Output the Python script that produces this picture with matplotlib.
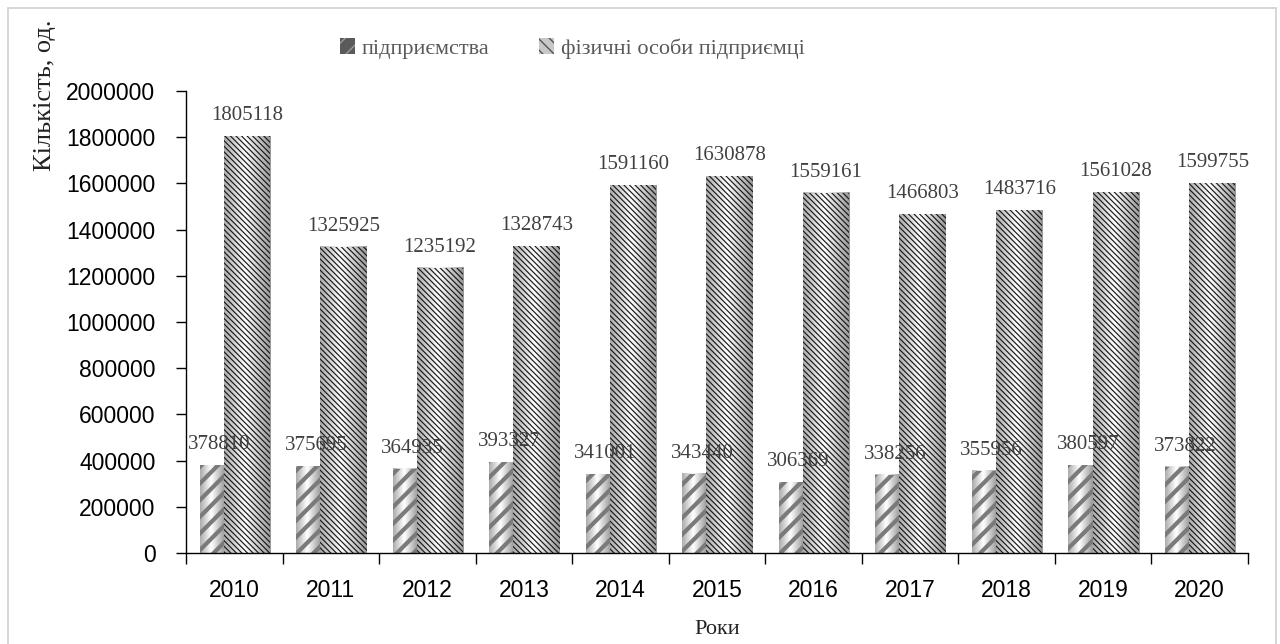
import numpy as np
import matplotlib.pyplot as plt
from matplotlib.patches import Rectangle, Patch

# data
years = ['2010', '2011', '2012', '2013', '2014', '2015',
         '2016', '2017', '2018', '2019', '2020']
enterprises = [378810, 375695, 364935, 393327, 341001, 343440,
               306369, 338256, 355956, 380597, 373822]
entrepreneurs = [1805118, 1325925, 1235192, 1328743, 1591160, 1630878,
                 1559161, 1466803, 1483716, 1561028, 1599755]
yticks = [0, 200000, 400000, 600000, 800000, 1000000, 1200000,
          1400000, 1600000, 1800000, 2000000]

serif = 'Liberation Serif'
sans = 'Liberation Sans'
label_col = '#404040'

fig = plt.figure(figsize=(12.8, 6.44), dpi=100)
ax = fig.add_axes([0.1453, 0.1413, 0.8297, 0.7174])

# light grey frame round the whole chart
fig.patches.append(Rectangle((0.006, -0.01), 0.991, 0.998, transform=fig.transFigure,
                             fill=False, edgecolor='#d0d0d0', linewidth=1.2))

x = np.arange(len(years))
w1, w2 = 0.25, 0.48
off1 = -0.36 + w1 / 2
off2 = -0.11 + w2 / 2

# horizontal shading, grey at the edges and white near the middle
g = np.linspace(0, 1, 64)
shade = 1 - 0.4 * np.abs(g - 0.45) / 0.55
grad = np.tile(shade, (2, 1))


def shaded_bars(xs, vals, width, hatch, color, hlw):
    for xc, v in zip(xs, vals):
        ax.imshow(grad, cmap='gray', vmin=0, vmax=1, aspect='auto',
                  extent=(xc - width / 2, xc + width / 2, 0, v), zorder=1,
                  interpolation='bilinear')
    with plt.rc_context({'hatch.linewidth': hlw}):
        bars = ax.bar(xs, vals, width, facecolor='none', edgecolor=color,
                      hatch=hatch, linewidth=0, zorder=2)
    for b in bars:
        if hasattr(b, 'set_hatch_linewidth'):
            b.set_hatch_linewidth(hlw)
    return bars


shaded_bars(x + off1, enterprises, w1, '//', '#7a7a7a', 3.0)
shaded_bars(x + off2, entrepreneurs, w2, '\\\\\\\\\\\\', '#1a1a1a', 0.85)

for xi, v in zip(x + off1, enterprises):
    ax.annotate(f'{v}', (xi + 0.08, v), xytext=(0, 8), textcoords='offset points',
                ha='center', va='bottom', fontsize=15, family=serif,
                color=label_col, zorder=3)
for xi, v in zip(x + off2, entrepreneurs):
    ax.annotate(f'{v}', (xi, v), xytext=(0, 8), textcoords='offset points',
                ha='center', va='bottom', fontsize=15, family=serif,
                color=label_col, zorder=3)

ax.set_xlim(-0.5, len(years) - 0.5)
ax.set_ylim(0, 2000000)
ax.set_yticks(yticks)
ax.set_yticklabels([str(t) for t in yticks], family=sans, fontsize=16.5)
ax.set_xticks(np.arange(-0.5, len(years)), labels=[])
ax.set_xticks(x, labels=years, minor=True)
ax.tick_params(axis='x', which='major', length=8, width=1, direction='out')
ax.tick_params(axis='x', which='minor', length=0, pad=19, labelsize=16.5)
ax.tick_params(axis='y', length=7, width=1, direction='out', pad=15)
for lab in ax.get_xticklabels(minor=True):
    lab.set_family(sans)

for s in ['top', 'right']:
    ax.spines[s].set_visible(False)
for s in ['left', 'bottom']:
    ax.spines[s].set_linewidth(1)
    ax.spines[s].set_color('black')

fig.text(0.035, 0.97, 'Кількість, од.', rotation=90, ha='center', va='top',
         fontsize=19, family=serif, color='#222222')
fig.text(0.56, 0.022, 'Роки', ha='center', va='center',
         fontsize=16, family=serif, color='#222222')

handles = [Patch(facecolor='#5a5a5a', edgecolor='#9a9a9a', hatch='//', linewidth=0),
           Patch(facecolor='#c8c8c8', edgecolor='#555555', hatch='\\\\\\', linewidth=0)]
leg = fig.legend(handles, ['підприємства', 'фізичні особи підприємці'],
                 loc='center', bbox_to_anchor=(0.447, 0.925), ncol=2, frameon=False,
                 handlelength=0.7, handleheight=0.7, handletextpad=0.3,
                 columnspacing=2.2, prop={'family': serif, 'size': 16})
for t in leg.get_texts():
    t.set_color('#595959')

fig.savefig('out.png', dpi=100)
